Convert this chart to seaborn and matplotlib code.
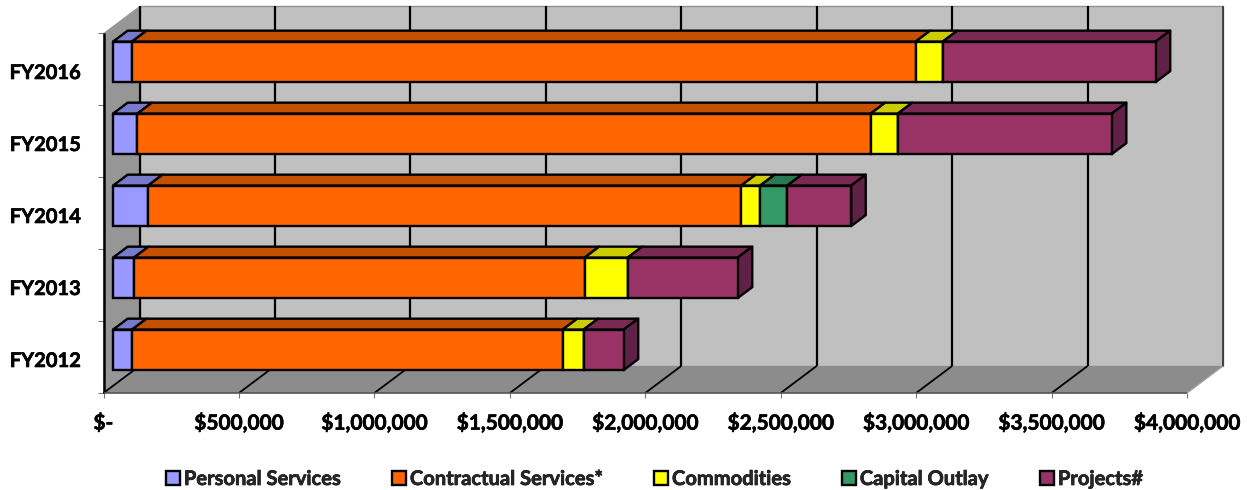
import numpy as np
import matplotlib
matplotlib.use('Agg')
import matplotlib.pyplot as plt
import matplotlib.patheffects as pe
import seaborn as sns
from matplotlib.patches import Polygon
from matplotlib.transforms import Affine2D, IdentityTransform, ScaledTranslation

years = ['FY2016', 'FY2015', 'FY2014', 'FY2013', 'FY2012']
personal = [70000, 90000, 129000, 77000, 70000]
contractual = [2893000, 2707000, 2190000, 1664000, 1590000]
commodities = [100000, 100000, 70000, 159000, 77000]
capital = [0, 0, 100000, 0, 0]
projects = [786000, 790000, 236000, 406000, 148000]

series_names = ['Personal Services', 'Contractual Services*', 'Commodities', 'Capital Outlay', 'Projects#']
series_values = [personal, contractual, commodities, capital, projects]
front_colors = ['#9999FF', '#FF6600', '#FFFF00', '#339966', '#993366']
top_colors = ['#7A7ACC', '#C45000', '#CCCC00', '#297A52', '#7A2952']
side_color = '#5F2145'

x_ticks = [0, 500000, 1000000, 1500000, 2000000, 2500000, 3000000, 3500000, 4000000]
x_labels = ['$-', '$500,000', '$1,000,000', '$1,500,000', '$2,000,000',
            '$2,500,000', '$3,000,000', '$3,500,000', '$4,000,000']

W, H = 1247, 490
DEPTH_X, DEPTH_Y = 36, 27
BAR_NEAR, BAR_FAR = 0.265, 0.67
BAR_WIDTH = 0.5625
EDGE = 1.7

sns.set_style('white')
plt.rcParams['font.family'] = ['Lato', 'DejaVu Sans']
plt.rcParams['font.weight'] = 'bold'

fig = plt.figure(figsize=(W / 100, H / 100), dpi=100)
ax = fig.add_axes([103.5 / W, 1 - 393 / H, (1187 - 103.5) / W, (393 - 33) / H])

# front faces of the stacked bars
left = np.zeros(len(years))
lefts = []
for name, vals, color in zip(series_names, series_values, front_colors):
    lefts.append(left.copy())
    sns.barplot(x=vals, y=years, left=left.copy(), color=color, saturation=1, orient='h',
                width=BAR_WIDTH, edgecolor='black', linewidth=EDGE, zorder=4,
                label=name, legend=False, ax=ax)
    left = left + np.array(vals)

ax.set_xlim(0, 4000000)
ax.set_ylim(4.5, -0.5)
ax.patch.set_alpha(0)
sns.despine(ax=ax, left=True, bottom=True)


def to_px(x, y, depth=0.0):
    px, py = ax.transData.transform((x, y))
    return px + depth * DEPTH_X, py + depth * DEPTH_Y


def face(points, color, edge='black', lw=EDGE, z=3):
    ax.add_patch(Polygon(points, closed=True, facecolor=color, edgecolor=edge, linewidth=lw,
                         joinstyle='round', transform=IdentityTransform(), clip_on=False, zorder=z))


def line(p0, p1, color='black', lw=1.5, z=1):
    ax.plot([p0[0], p1[0]], [p0[1], p1[1]], color=color, lw=lw, zorder=z, clip_on=False,
            transform=IdentityTransform(), scalex=False, scaley=False, solid_capstyle='butt')


# slide the bars back to their place in the depth of the box
shift = Affine2D().translate(BAR_NEAR * DEPTH_X, BAR_NEAR * DEPTH_Y)
for container in ax.containers:
    for patch in container:
        patch.set_transform(ax.transData + shift)
        patch.set_clip_on(False)

# walls and floor
y_top, y_bot = -0.5, 4.5
face([to_px(0, y_top, 1), to_px(4000000, y_top, 1), to_px(4000000, y_bot, 1), to_px(0, y_bot, 1)],
     '#C0C0C0', edge='#909090', lw=1, z=0.1)
face([to_px(0, y_top), to_px(0, y_top, 1), to_px(0, y_bot, 1), to_px(0, y_bot)],
     '#969696', edge='none', lw=0, z=0.2)
face([to_px(0, y_bot), to_px(4000000, y_bot), to_px(4000000, y_bot, 1), to_px(0, y_bot, 1)],
     '#8C8C8C', edge='none', lw=0, z=0.2)

for t in x_ticks:
    if t == 4000000:
        line(to_px(t, y_bot), to_px(t, y_bot, 1), color='#A0A0A0', lw=1)
        line(to_px(t, y_top, 1), to_px(t, y_bot, 1), color='#303030', lw=1.2)
        continue
    line(to_px(t, y_bot), to_px(t, y_bot, 1), lw=1.3)
    line(to_px(t, y_top, 1), to_px(t, y_bot, 1), lw=1.6)
line(to_px(0, y_top), to_px(0, y_bot), lw=1.8, z=1.5)
line(to_px(0, y_bot), to_px(4000000, y_bot), color='#555555', lw=1.2, z=1.5)

# top and end faces
for i in range(len(years)):
    y0 = i - BAR_WIDTH / 2
    y1 = i + BAR_WIDTH / 2
    for s, vals in enumerate(series_values):
        if vals[i] == 0:
            continue
        x0 = lefts[s][i]
        x1 = x0 + vals[i]
        face([to_px(x0, y0, BAR_NEAR), to_px(x1, y0, BAR_NEAR),
              to_px(x1, y0, BAR_FAR), to_px(x0, y0, BAR_FAR)], top_colors[s])
    end = left[i]
    face([to_px(end, y0, BAR_NEAR), to_px(end, y0, BAR_FAR),
          to_px(end, y1, BAR_FAR), to_px(end, y1, BAR_NEAR)], side_color)

# axis labels
ax.set_xticks(x_ticks, x_labels)
ax.tick_params(axis='x', length=3.6, width=0.8, color='#777777', pad=10.5, labelsize=15)
ax.set_yticks(range(len(years)), years)
ax.set_yticks(np.arange(-0.5, 5), minor=True)
ax.tick_params(axis='y', which='major', length=0, pad=16.5, labelsize=14.5)
ax.tick_params(axis='y', which='minor', length=4.5, width=0.8, color='#777777', left=True)
ax.tick_params(axis='x', bottom=True)
label_shift = ScaledTranslation(0, -2 / 100, fig.dpi_scale_trans)
for lab in ax.get_yticklabels():
    lab.set_transform(lab.get_transform() + label_shift)

# Lato bold comes out a bit thin next to the original lettering
thicken = [pe.withStroke(linewidth=0.45, foreground='black')]
for lab in ax.get_xticklabels() + ax.get_yticklabels():
    lab.set_fontweight('bold')
    lab.set_color('black')
    lab.set_path_effects(thicken)

handles, labels = ax.get_legend_handles_labels()
leg = fig.legend(handles, labels, loc='center', bbox_to_anchor=(654.5 / W, 1 - 479 / H), ncol=5,
                 frameon=False, fontsize=14.5, handlelength=0.68, handleheight=0.68,
                 handletextpad=0.2, columnspacing=2.55, borderpad=0)
for lab in leg.get_texts():
    lab.set_fontweight('bold')
    lab.set_path_effects(thicken)

fig.savefig('out.png', dpi=100)
